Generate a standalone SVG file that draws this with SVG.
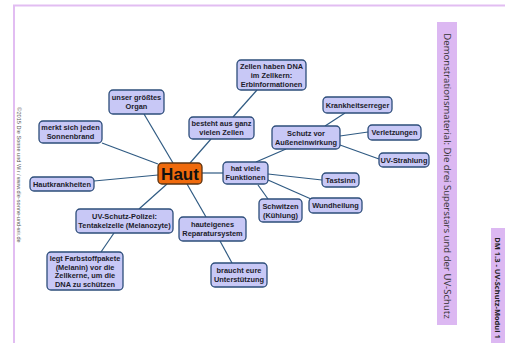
<svg xmlns="http://www.w3.org/2000/svg" width="505" height="343" viewBox="0 0 505 343">
<style>
.n rect{fill:#c8c8f6;stroke:#2d4d7a;stroke-width:1.3}
.n text{font-family:"Liberation Sans",Arial,sans-serif;font-weight:bold;font-size:7.4px;fill:#1c1c2c;text-anchor:middle}
#conn line{stroke:#2f5a82;stroke-width:1.2}
.side{font-family:"Open Sans","Noto Sans",sans-serif}
</style>
<rect width="505" height="343" fill="#ffffff"/>
<path d="M14,343 V5.5 H505" fill="none" stroke="#e2bdf2" stroke-width="2"/>
<g id="conn">
<line x1="173" y1="163" x2="144" y2="114"/>
<line x1="158" y1="164" x2="102" y2="143"/>
<line x1="190" y1="163" x2="211" y2="139"/>
<line x1="233" y1="117" x2="257" y2="90"/>
<line x1="158" y1="175" x2="94" y2="181"/>
<line x1="167" y1="184" x2="139" y2="209"/>
<line x1="114" y1="233" x2="101" y2="252"/>
<line x1="187" y1="184" x2="206" y2="217"/>
<line x1="220" y1="241" x2="232" y2="263"/>
<line x1="202" y1="173" x2="223" y2="173"/>
<line x1="256" y1="162" x2="286" y2="149"/>
<line x1="325" y1="126" x2="345" y2="113"/>
<line x1="340" y1="136" x2="368" y2="132"/>
<line x1="340" y1="145" x2="379" y2="159"/>
<line x1="268" y1="174" x2="322" y2="180"/>
<line x1="268" y1="180" x2="311" y2="199"/>
<line x1="258" y1="185" x2="268" y2="199"/>
</g>
<g id="haut" class="n"><rect x="158" y="163" width="44" height="21" rx="4" style="fill:#f06a0c;stroke:#5a3414"/><text x="180" y="179.5" style="font-size:17px;fill:#111">Haut</text></g>
<g id="funktionen" class="n"><rect x="223" y="162" width="45" height="22" rx="4"/><text x="245.5" y="171">hat viele</text><text x="245.5" y="180">Funktionen</text></g>
<g id="organ" class="n"><rect x="109" y="90" width="55" height="24" rx="4"/><text x="136.5" y="100">unser größtes</text><text x="136.5" y="109">Organ</text></g>
<g id="sonnenbrand" class="n"><rect x="39" y="121" width="63" height="22" rx="4"/><text x="70.5" y="130">merkt sich jeden</text><text x="70.5" y="139">Sonnenbrand</text></g>
<g id="zellen" class="n"><rect x="189" y="117" width="65" height="22" rx="4"/><text x="221.5" y="126">besteht aus ganz</text><text x="221.5" y="135">vielen Zellen</text></g>
<g id="dna" class="n"><rect x="237" y="60" width="69" height="30" rx="4"/><text x="271.5" y="69">Zellen haben DNA</text><text x="271.5" y="78">im Zellkern:</text><text x="271.5" y="86.5">Erbinformationen</text></g>
<g id="krankheitserreger" class="n"><rect x="323" y="97" width="69" height="16" rx="4"/><text x="357.5" y="107.5">Krankheitserreger</text></g>
<g id="schutz" class="n"><rect x="272" y="126" width="68" height="23" rx="4"/><text x="306" y="135.5">Schutz vor</text><text x="306" y="144.5">Außeneinwirkung</text></g>
<g id="verletzungen" class="n"><rect x="368" y="125" width="53" height="15" rx="4"/><text x="394.5" y="135">Verletzungen</text></g>
<g id="uvstrahlung" class="n"><rect x="379" y="153" width="50" height="14" rx="4"/><text x="404" y="162.5">UV-Strahlung</text></g>
<g id="tastsinn" class="n"><rect x="322" y="173" width="37" height="14" rx="4"/><text x="340.5" y="182.5">Tastsinn</text></g>
<g id="wundheilung" class="n"><rect x="309" y="198" width="53" height="15" rx="4"/><text x="335.5" y="208">Wundheilung</text></g>
<g id="schwitzen" class="n"><rect x="259" y="199" width="43" height="23" rx="4"/><text x="280.5" y="208.5">Schwitzen</text><text x="280.5" y="217.5">(Kühlung)</text></g>
<g id="hautkrankheiten" class="n"><rect x="30" y="177" width="64" height="14" rx="4"/><text x="62" y="186.5">Hautkrankheiten</text></g>
<g id="polizei" class="n"><rect x="76" y="209" width="97" height="24" rx="4"/><text x="124.5" y="218.5">UV-Schutz-Polizei:</text><text x="124.5" y="227.5">Tentakelzelle (Melanozyte)</text></g>
<g id="farbstoff" class="n"><rect x="47" y="252" width="76" height="38" rx="4"/><text x="85" y="261">legt Farbstoffpakete</text><text x="85" y="269.5">(Melanin) vor die</text><text x="85" y="278">Zellkerne, um die</text><text x="85" y="286.5">DNA zu schützen</text></g>
<g id="reparatur" class="n"><rect x="179" y="217" width="67" height="24" rx="4"/><text x="212.5" y="226.5">hauteigenes</text><text x="212.5" y="235.5">Reparatursystem</text></g>
<g id="unterstuetzung" class="n"><rect x="211" y="263" width="56" height="24" rx="4"/><text x="239" y="272.5">braucht eure</text><text x="239" y="281.5">Unterstützung</text></g>
<rect x="437" y="22" width="20" height="303" fill="#dcb8f2"/>
<text class="side" transform="translate(443.5,176) rotate(90)" text-anchor="middle" font-size="9.6" fill="#333">Demonstrationsmaterial: Die drei Superstars und der UV-Schutz</text>
<rect x="491" y="228" width="14" height="115" fill="#dcb8f2"/>
<text class="side" transform="translate(495,288) rotate(90)" text-anchor="middle" font-size="7.5" font-weight="bold" fill="#222">DM 1.3 - UV-Schutz-Modul 1</text>
<text transform="translate(17,175) rotate(90)" text-anchor="middle" font-family="Liberation Sans,Arial,sans-serif" font-size="5.6" fill="#555">©2015 Die Sonne und Wir / www.die-sonne-und-wir.de</text>
</svg>
